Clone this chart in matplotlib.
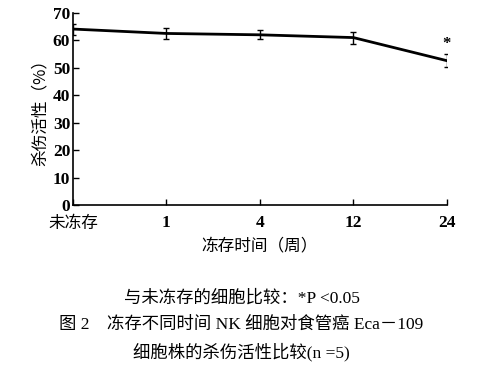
import matplotlib.pyplot as plt

plt.rcParams['font.family'] = ['Liberation Serif', 'Noto Sans CJK SC']

# data
categories = ['未冻存', '1', '4', '12', '24']
kill_rate = [64.1, 62.5, 62.0, 61.0, 52.6]
kill_err = [2.0, 2.0, 1.7, 2.2, 2.4]
yticks = [0, 10, 20, 30, 40, 50, 60, 70]

cjk = ['Noto Sans CJK SC']
mixed = ['Liberation Serif', 'Noto Sans CJK SC']

fig = plt.figure(figsize=(4.83, 3.67), dpi=100)
ax = fig.add_axes([0.151, 0.441, 0.774, 0.524])

x = list(range(len(categories)))
ax.errorbar(x, kill_rate, yerr=kill_err, color='black', linewidth=2.0,
            elinewidth=1.0, capsize=2.5, capthick=1.0)
# significance mark at 24 weeks
ax.text(x[-1], kill_rate[-1] + kill_err[-1] + 0.8, '*', ha='center', va='bottom',
        fontsize=12, fontweight='bold')

ax.set_xlim(0, 4)
ax.set_ylim(0, 70)
ax.set_xticks(x)
ax.set_xticklabels(categories)
ax.set_yticks(yticks)
ax.tick_params(direction='in', length=4, width=1.0, labelsize=12.5)
ax.tick_params(axis='x', pad=7)
ax.tick_params(axis='y', pad=2)
for lab in ax.get_xticklabels() + ax.get_yticklabels():
    lab.set_fontweight('bold')
first = ax.get_xticklabels()[0]
first.set_family(cjk)
first.set_fontsize(12)
first.set_fontweight('medium')

ax.spines['top'].set_visible(False)
ax.spines['right'].set_visible(False)
ax.spines['left'].set_linewidth(1.2)
ax.spines['bottom'].set_linewidth(1.2)

ax.set_ylabel('杀伤活性（%）', family=cjk, fontsize=12, fontweight='medium', labelpad=3)
ax.set_xlabel('冻存时间（周）', family=cjk, fontsize=12, fontweight='medium', labelpad=4)

fig.text(0.5, 1 - 298 / 367, '与未冻存的细胞比较：*P <0.05', ha='center', va='center',
         fontsize=12.5, family=mixed)
fig.text(0.5, 1 - 325 / 367, '图 2    冻存不同时间 NK 细胞对食管癌 Eca－109', ha='center',
         va='center', fontsize=12.5, family=mixed)
fig.text(0.5, 1 - 352 / 367, '细胞株的杀伤活性比较(n =5)', ha='center', va='center',
         fontsize=12.5, family=mixed)

fig.savefig('out.png', dpi=100)
